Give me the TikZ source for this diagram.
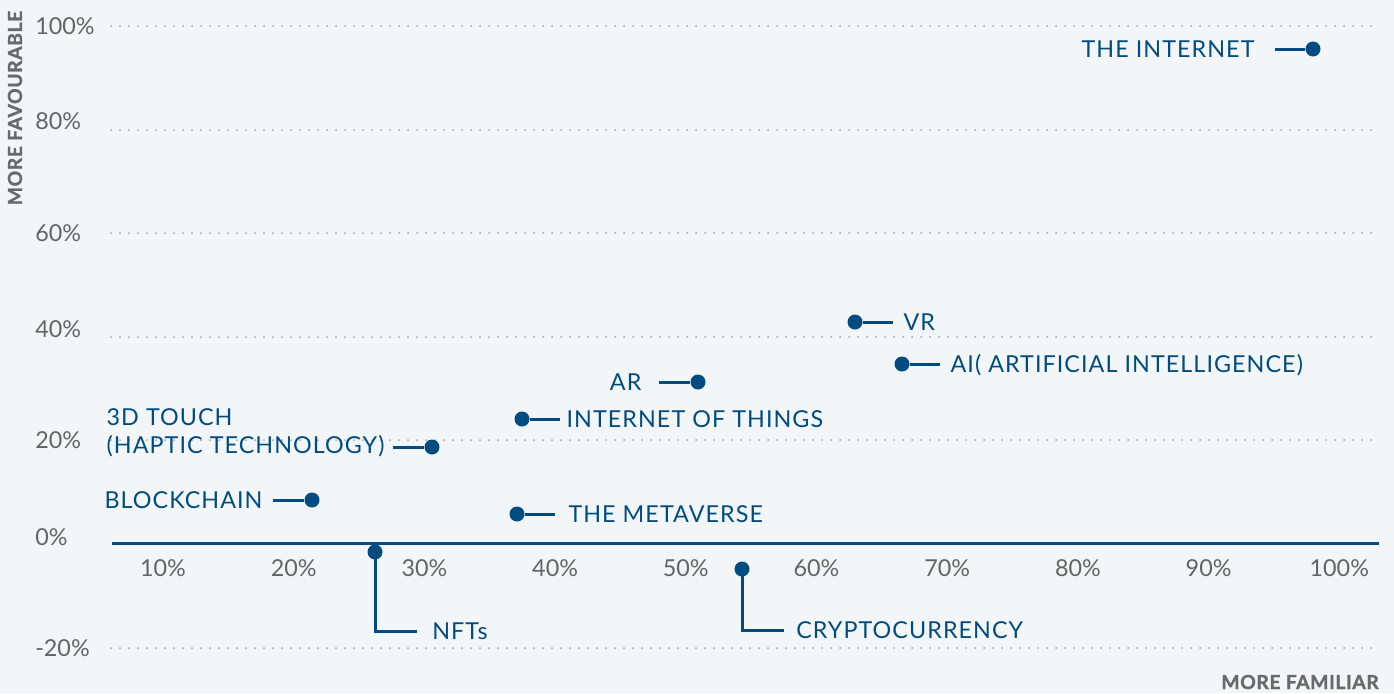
\documentclass[tikz,border=0pt]{standalone}
\usepackage{fontspec}
\setmainfont{Lato}
\newfontfamily\lblfont[LetterSpace=4.5]{Lato}
\newfontfamily\titlefont[LetterSpace=3, BoldFeatures={FakeBold=1.2}]{Lato}
\usetikzlibrary{positioning}

\definecolor{bgcol}{RGB}{243,246,248}
\definecolor{navy}{RGB}{0,76,128}
\definecolor{tickgray}{RGB}{100,100,100}
\definecolor{gridgray}{RGB}{165,165,165}
\definecolor{titlegray}{RGB}{105,105,105}

\tikzset{
  dot/.style={circle, fill=navy, inner sep=0pt, minimum size=11.25pt},
  tech/.style={text=navy, inner sep=0pt, text height=12.5pt, text depth=0pt,
    font=\lblfont\fontsize{17.5}{21}\selectfont},
  stub/.style={draw=navy, line width=2.25pt},
  gridline/.style={draw=gridgray, line width=1.5pt, line cap=round, dash pattern=on 0pt off 6.75pt},
  tick/.style={text=tickgray, inner sep=0pt, font=\fontsize{17.5}{21}\selectfont},
  axistitle/.style={text=titlegray, inner sep=0pt, font=\titlefont\bfseries\fontsize{14.5}{17}\selectfont}
}

\begin{document}
\begin{tikzpicture}[x=0.75pt, y=-0.75pt]

  % Background and frame
  \fill[bgcol] (0,0) rectangle (1394,693);
  \useasboundingbox (0,0) rectangle (1394,693);

  % Grid and axis
  \foreach \gy in {26,130,233,337,440,648}
    \draw[gridline] (111,\gy) -- (1379,\gy);
  \coordinate (axisL) at (112,543);
  \coordinate (axisR) at (1379,543);
  \draw[navy, line width=2.25pt] (axisL) -- (axisR);

  % Tick labels
  \foreach \v/\gy in {100/26, 80/121, 60/233, 40/329, 20/440, 0/537, -20/648}
    \node[tick, anchor=west] (ylab\v) at (35,\gy) {\v\%};
  \foreach \v in {10,20,...,100}
    \node[tick] (xlab\v) at ({163+13.07*(\v-10)},568) {\v\%};

  % Axis titles
  \node[axistitle, anchor=east] (famtitle) at (1379,682) {MORE FAMILIAR};
  \node[axistitle, rotate=90] (favtitle) at (15,108) {MORE FAVOURABLE};

  % Define nodes
  \node[dot] (inet) at (1313,49) {};
  \node[dot] (vr) at (855,322) {};
  \node[dot] (ai) at (902,364) {};
  \node[dot] (ar) at (698,382) {};
  \node[dot] (iot) at (522,419) {};
  \node[dot] (touch) at (432,447) {};
  \node[dot] (chain) at (312,500) {};
  \node[dot] (meta) at (517,514) {};
  \node[dot] (nft) at (375,552) {};
  \node[dot] (crypto) at (742,569) {};

  \node[tech, left=37.9pt of inet] (inetlbl) {THE INTERNET};
  \node[tech, right=30.4pt of vr] (vrlbl) {VR};
  \node[tech, right=30.4pt of ai] (ailbl) {AI( ARTIFICIAL INTELLIGENCE)};
  \node[tech, left=36.4pt of ar] (arlbl) {AR};
  \node[tech, right=27.4pt of iot] (iotlbl) {INTERNET OF THINGS};
  \node[tech, left=29.6pt of touch, yshift=10.5pt, text height=, text depth=, align=left,
    font=\lblfont\fontsize{17.5}{21}\selectfont] (touchlbl) {3D TOUCH\\(HAPTIC TECHNOLOGY)};
  \node[tech, left=31.1pt of chain] (chainlbl) {BLOCKCHAIN};
  \node[tech, right=32.6pt of meta] (metalbl) {THE METAVERSE};
  \node[tech, anchor=west] (nftlbl) at (432,631) {NFTs};
  \node[tech, anchor=west] (cryptolbl) at (796,630) {CRYPTOCURRENCY};

  % Connect nodes
  \draw[stub, shorten >=15pt] (inet) -- (inetlbl);
  \draw[stub, shorten >=7.5pt] (vr) -- (vrlbl);
  \draw[stub, shorten >=7.5pt] (ai) -- (ailbl);
  \draw[stub, shorten >=12.75pt] (ar) -- (arlbl);
  \draw[stub, shorten >=4.5pt] (iot) -- (iotlbl);
  \draw[stub, shorten >=6pt] (touch) -- (touchlbl.east |- touch);
  \draw[stub, shorten >=7.5pt] (chain) -- (chainlbl);
  \draw[stub, shorten >=9.75pt] (meta) -- (metalbl);
  \draw[stub, shorten >=11.25pt] (nft.center) |- (nftlbl);
  \draw[stub, shorten >=9pt] (crypto.center) |- (cryptolbl);

\end{tikzpicture}
\end{document}
